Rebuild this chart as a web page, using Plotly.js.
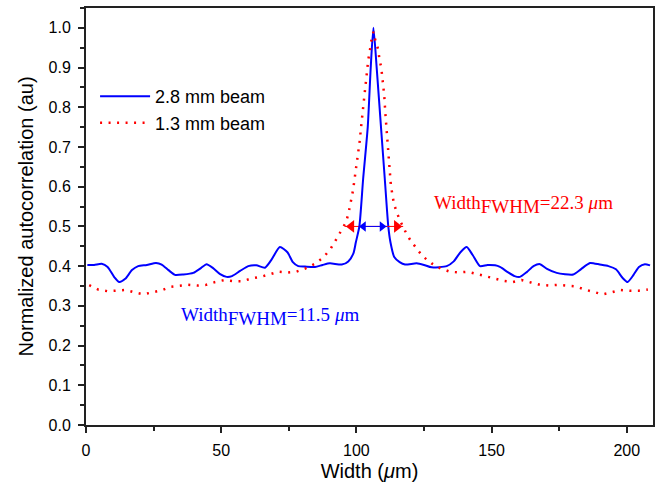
<!DOCTYPE html>
<html>
<head>
<meta charset="utf-8">
<script src="https://cdn.plot.ly/plotly-3.0.1.min.js"></script>
<style>html,body{margin:0;padding:0;background:#fff;}#chart{width:655px;height:482px;}</style>
</head>
<body>
<div id="chart"></div>
<script>
// Blue solid: 2.8 mm beam
const blueX = [0.5, 3, 5.8, 8, 10.5, 12.3, 14.5, 17, 19.3, 22.5, 25.9, 28, 30.5, 32.9, 36, 39.7, 42.5, 44.6, 47, 49.6,
  52, 54, 57, 60, 63, 66.2, 68.5, 71.7, 74.5, 76.5, 78.5, 81, 84.7, 87.5, 90.2, 94.6, 97, 98.9, 99.8, 101.1,
  102.5, 104.2, 105.3, 106.3, 107.5, 109.1, 110.5, 111.8, 112.6, 114, 116, 118, 122.3, 125, 127.8, 133.4, 136, 138.5,
  140.8, 143, 145.7, 148.5, 151.3, 153.1, 156, 158.5, 160.5, 163, 165.5, 167.9, 170.5, 174.1, 180.2, 183, 186.4,
  190, 193.2, 196, 198.5, 200.3, 202.5, 204.5, 206.7, 208.6];
const blueY = [0.403, 0.403, 0.406, 0.398, 0.372, 0.360, 0.368, 0.390, 0.400, 0.403, 0.408, 0.404, 0.390, 0.378, 0.379, 0.383, 0.395, 0.405, 0.395, 0.380,
  0.373, 0.375, 0.388, 0.400, 0.402, 0.396, 0.415, 0.448, 0.435, 0.410, 0.400, 0.399, 0.398, 0.403, 0.407, 0.404, 0.412, 0.432, 0.460, 0.500,
  0.620, 0.750, 0.900, 1.000, 0.900, 0.750, 0.620, 0.500, 0.460, 0.423, 0.410, 0.404, 0.407, 0.403, 0.397, 0.400, 0.412, 0.435,
  0.448, 0.428, 0.400, 0.403, 0.402, 0.398, 0.385, 0.375, 0.373, 0.385, 0.400, 0.405, 0.393, 0.383, 0.379, 0.392, 0.408,
  0.404, 0.400, 0.392, 0.370, 0.360, 0.378, 0.398, 0.405, 0.402];

// Red dotted: 1.3 mm beam
const redX = [1.2, 4.5, 7.9, 11.3, 14.7, 17.9, 21.2, 24.5, 27.9, 31.2, 34.5, 37.8, 41.2, 44.5, 47.8, 51.1, 54.5, 57.8, 61.1, 64.5,
  67.8, 71.1, 74.5, 77.8, 81.1, 84.4, 87.8, 90.5, 92.5, 94.3, 96.2, 97.1, 97.9, 98.5, 99.0, 99.5, 100.1, 100.5, 101.0, 101.3,
  101.6, 101.9, 102.3, 102.6, 102.9, 103.2, 103.6, 103.9, 104.4, 105.0, 105.4, 106.3, 107.1, 108.1, 108.5, 109.2, 109.6, 109.9, 110.3, 110.7,
  111.2, 111.6, 111.9, 112.3, 112.7, 113.3, 113.9, 114.9, 116.1, 118.0, 119.8, 122.3, 124.5, 127.8, 131.2, 134.6, 138.0, 141.2, 144.5, 147.8,
  151.3, 154.5, 157.8, 161.1, 164.5, 167.9, 171.2, 174.6, 177.8, 181.2, 184.5, 187.9, 191.1, 194.4, 197.7, 201.2, 204.4, 207.8];
const redY = [0.352, 0.341, 0.337, 0.338, 0.340, 0.334, 0.329, 0.334, 0.339, 0.348, 0.350, 0.353, 0.351, 0.353, 0.360, 0.365, 0.362, 0.362, 0.369, 0.373,
  0.379, 0.386, 0.384, 0.386, 0.394, 0.405, 0.422, 0.444, 0.467, 0.489, 0.511, 0.534, 0.557, 0.581, 0.603, 0.627, 0.650, 0.673, 0.696, 0.718,
  0.742, 0.763, 0.785, 0.807, 0.829, 0.851, 0.874, 0.897, 0.920, 0.943, 0.964, 0.990, 0.966, 0.945, 0.922, 0.900, 0.878, 0.855, 0.830, 0.786,
  0.742, 0.708, 0.675, 0.641, 0.608, 0.580, 0.557, 0.536, 0.515, 0.489, 0.467, 0.444, 0.425, 0.407, 0.394, 0.386, 0.384, 0.386, 0.380, 0.375,
  0.369, 0.363, 0.360, 0.365, 0.359, 0.353, 0.351, 0.353, 0.351, 0.349, 0.341, 0.334, 0.329, 0.334, 0.340, 0.338, 0.338, 0.341];

const seriesNames = ['2.8 mm beam', '1.3 mm beam'];
const fwhmBlue = 11.5, fwhmRed = 22.3;
const arrowY = 0.5;
const blueArrow = [100.7, 111.4];
const redArrow = [95.8, 117.3];

const sans = 'Liberation Sans, Arial, sans-serif';
const serif = 'Liberation Serif, Times New Roman, serif';

const xRange = [0, 209.7];
const plotW = 655 - 86 - 2;
const pxPerUnit = plotW / (xRange[1] - xRange[0]);

// double-headed arrow built from a shaft line plus triangle heads whose tips sit on the arrow ends
function arrowTraces(ends, color, headSize) {
  const tipOffset = (headSize / 2) * 2 / Math.sqrt(3) / pxPerUnit;
  return [
    {x: ends, y: [arrowY, arrowY], type: 'scatter', mode: 'lines', showlegend: false, hoverinfo: 'skip',
     line: {color: color, width: 1}},
    {x: [ends[0] + tipOffset, ends[1] - tipOffset], y: [arrowY, arrowY], type: 'scatter', mode: 'markers',
     showlegend: false, hoverinfo: 'skip',
     marker: {symbol: ['triangle-left', 'triangle-right'], size: headSize, color: color, line: {width: 0}}}
  ];
}

const traces = [
  {x: blueX, y: blueY, type: 'scatter', mode: 'lines', name: seriesNames[0],
   line: {color: '#0000ff', width: 2, shape: 'spline', smoothing: 0.6}},
  {x: redX, y: redY, type: 'scatter', mode: 'lines', name: seriesNames[1],
   line: {color: '#ff0000', width: 2.5, dash: '2px,6.5px'}}
].concat(arrowTraces(redArrow, '#ff0000', 11), arrowTraces(blueArrow, '#0000ff', 9));

function fwhmText(v) {
  return 'Width<sub><span style="font-size:19px">FWHM</span></sub>=' + v.toFixed(1) + ' <i>μ</i>m';
}

const layout = {
  width: 655, height: 482,
  margin: {l: 86, r: 2, t: 8, b: 57},
  paper_bgcolor: '#fff', plot_bgcolor: '#fff',
  font: {family: sans, color: '#000'},
  showlegend: true,
  legend: {x: 0.016, y: 0.832, xanchor: 'left', yanchor: 'top', bgcolor: 'rgba(0,0,0,0)',
           font: {family: sans, size: 18, color: '#000'}, itemwidth: 50},
  xaxis: {
    range: xRange, tick0: 0, dtick: 50, ticks: 'outside', ticklen: 6, tickwidth: 2, tickcolor: '#222',
    showline: true, linewidth: 2, linecolor: '#222', mirror: true, showgrid: false, zeroline: false,
    tickfont: {family: sans, size: 16, color: '#000'}, ticklabelstandoff: 4,
    minor: {dtick: 25, ticks: 'outside', ticklen: 4, tickwidth: 2, tickcolor: '#222', showgrid: false},
    title: {text: 'Width (<i>μ</i>m)', font: {family: sans, size: 20, color: '#000'}, standoff: 6}
  },
  yaxis: {
    range: [0, 1.05], tick0: 0, dtick: 0.1, tickformat: '.1f', ticks: 'outside', ticklen: 6, tickwidth: 2, tickcolor: '#222',
    showline: true, linewidth: 2, linecolor: '#222', mirror: true, showgrid: false, zeroline: false,
    tickfont: {family: sans, size: 16, color: '#000'}, ticklabelstandoff: 4,
    minor: {dtick: 0.05, ticks: 'outside', ticklen: 4, tickwidth: 2, tickcolor: '#222', showgrid: false},
    title: {text: 'Normalized autocorrelation (au)', font: {family: sans, size: 20, color: '#000'}, standoff: 10}
  },
  annotations: [
    {x: 127.8, y: 0.556, xref: 'x', yref: 'y', xanchor: 'left', yanchor: 'middle', showarrow: false,
     text: fwhmText(fwhmRed), font: {family: serif, size: 19, color: '#ff0000'}},
    {x: 34.4, y: 0.272, xref: 'x', yref: 'y', xanchor: 'left', yanchor: 'middle', showarrow: false,
     text: fwhmText(fwhmBlue), font: {family: serif, size: 19, color: '#0000ff'}}
  ]
};

Plotly.newPlot('chart', traces, layout, {displayModeBar: false, staticPlot: true});
</script>
</body>
</html>
